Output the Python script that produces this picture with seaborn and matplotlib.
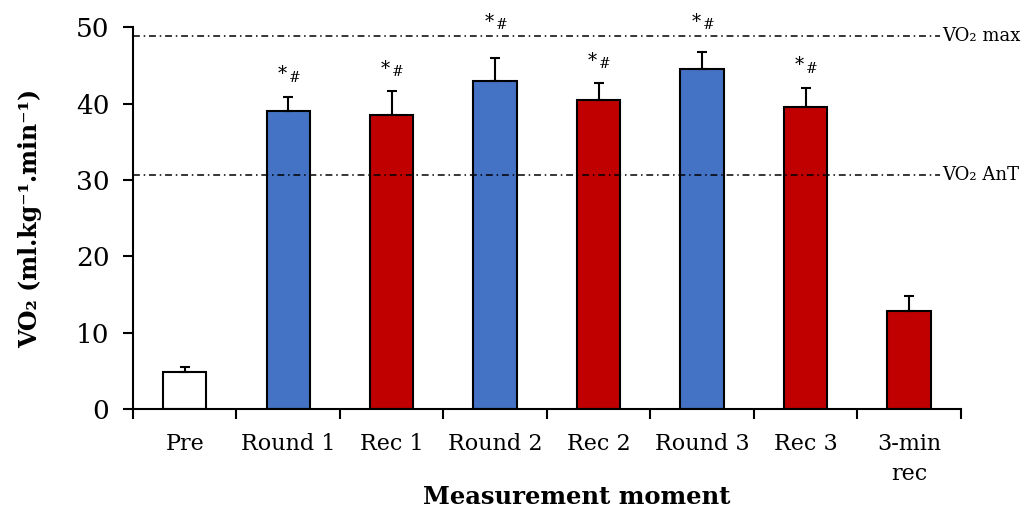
import numpy as np
import pandas as pd
import matplotlib
matplotlib.use("Agg")
import matplotlib.pyplot as plt
import seaborn as sns

categories = ["Pre", "Round 1", "Rec 1", "Round 2", "Rec 2", "Round 3", "Rec 3", "3-min\nrec"]
means = [4.8, 39.0, 38.5, 42.9, 40.5, 44.5, 39.5, 12.8]
errors = [0.7, 1.9, 3.1, 3.1, 2.2, 2.3, 2.6, 2.0]
bar_colors = ["#FFFFFF", "#4472C4", "#C00000", "#4472C4", "#C00000", "#4472C4", "#C00000", "#C00000"]
significant = [False, True, True, True, True, True, True, False]
vo2max = 48.9
vo2ant = 30.7

sns.set_style("white")
plt.rcParams["font.family"] = ["DejaVu Serif"]
plt.rcParams["text.color"] = "black"
plt.rcParams["axes.labelcolor"] = "black"
plt.rcParams["xtick.color"] = "black"
plt.rcParams["ytick.color"] = "black"

df = pd.DataFrame({"moment": categories, "vo2": means})

fig = plt.figure(figsize=(10.27, 5.15), dpi=100)
ax = fig.add_axes([0.1295, 0.2058, 0.8062, 0.7412])

sns.barplot(data=df, x="moment", y="vo2", hue="moment", palette=bar_colors,
            width=0.42, edgecolor="black", linewidth=1.5, legend=False, ax=ax,
            errorbar=None, saturation=1)

x = np.arange(len(categories))
ax.errorbar(x, means, yerr=[np.zeros(len(means)), errors], fmt="none",
            ecolor="black", elinewidth=1.5, capsize=3.5, capthick=1.5, zorder=3)

ls = (0, (4.5, 2.5, 1, 2.5))
ax.plot([-0.5, 7.3], [vo2max, vo2max], color="black", lw=1.1, linestyle=ls, zorder=1)
ax.plot([-0.5, 7.3], [vo2ant, vo2ant], color="black", lw=1.1, linestyle=ls, zorder=1)
ax.text(7.32, vo2max, "VO₂ max", va="center", ha="left", fontsize=13, clip_on=False)
ax.text(7.32, vo2ant, "VO₂ AnT", va="center", ha="left", fontsize=13, clip_on=False)

for i, (m, e, s) in enumerate(zip(means, errors, significant)):
    if not s:
        continue
    y = m + e + 2.6
    if abs(y - vo2max) < 1.2:
        y = vo2max + 1.5
    ax.text(i - 0.06, y + 0.35, "*", ha="center", va="center", fontsize=13)
    ax.text(i + 0.06, y - 0.1, "#", ha="center", va="center", fontsize=10)

ax.set_xlim(-0.5, 7.5)
ax.set_ylim(0, 50)
ax.set_yticks([0, 10, 20, 30, 40, 50])
ax.set_xticks(x)
ax.set_xticklabels(categories, fontsize=16, linespacing=1.5)
ax.set_xticks(np.arange(-0.5, 8, 1), minor=True)
ax.tick_params(axis="x", which="major", length=0, pad=17)
ax.tick_params(axis="x", which="minor", length=7, width=1.5, direction="out", color="black", bottom=True)
ax.tick_params(axis="y", which="major", length=7, width=1.5, direction="out", color="black",
               labelsize=19, left=True, pad=10)

for side in ["top", "right"]:
    ax.spines[side].set_visible(False)
for side in ["left", "bottom"]:
    ax.spines[side].set_color("black")
    ax.spines[side].set_linewidth(1.5)

ax.set_xlabel("Measurement moment", fontsize=17.5, fontweight="bold", labelpad=1)
ax.set_ylabel("VO₂ (ml.kg⁻¹.min⁻¹)", fontsize=17, fontweight="bold", labelpad=24)
ax.xaxis.set_label_coords(0.536, -0.2)
ax.xaxis.label.set_va("top")

fig.savefig("out.png", dpi=100)
